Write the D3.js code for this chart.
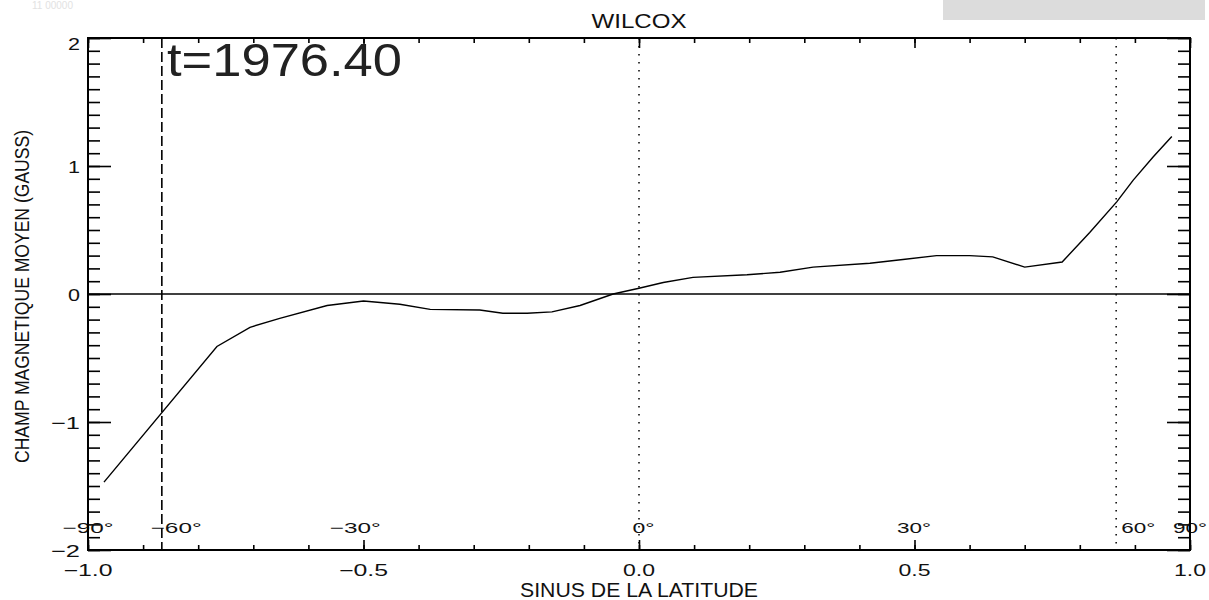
<!DOCTYPE html>
<html>
<head>
<meta charset="utf-8">
<script src="https://cdn.jsdelivr.net/npm/d3@7"></script>
<style>
body{margin:0;background:#fff;overflow:hidden;}
svg text{font-family:"Liberation Sans",Arial,sans-serif;fill:#111;}
</style>
</head>
<body>
<svg id="chart" width="1209" height="600"></svg>
<script>
// mean magnetic field vs sine of latitude (Wilcox, t=1976.40)
var sinLat = [-0.971,-0.766,-0.706,-0.652,-0.566,-0.5,-0.434,-0.379,-0.289,-0.247,-0.203,-0.158,-0.107,-0.047,0.0,0.044,0.098,0.196,0.256,0.316,0.419,0.479,0.54,0.6,0.642,0.70,0.768,0.818,0.867,0.897,0.933,0.967]
var field = [-1.47,-0.41,-0.26,-0.19,-0.09,-0.055,-0.08,-0.12,-0.125,-0.15,-0.15,-0.14,-0.09,0,0.045,0.09,0.13,0.15,0.17,0.21,0.24,0.27,0.30,0.30,0.29,0.21,0.25,0.48,0.72,0.89,1.07,1.23]

var xMajor = [-1,-0.5,0,0.5,1]
var yMajor = [-2,-1,0,1,2]
var degLabels = ["\u221290\u00b0","\u221260\u00b0","\u221230\u00b0","0\u00b0","30\u00b0","60\u00b0","90\u00b0"]
var degPos = [-1,-0.84,-0.515,0.008,0.499,0.906,1]
var dashedAt = [-0.866]
var dottedAt = [0,0.866]

var title = "WILCOX"
var timeLabel = "t=1976.40"
var xTitle = "SINUS DE LA LATITUDE"
var yTitle = "CHAMP MAGNETIQUE MOYEN (GAUSS)"

var L = 88, R = 1190, T = 38, B = 550

var svg = d3.select("#chart")
var x = d3.scaleLinear().domain([-1,1]).range([L,R])
var y = d3.scaleLinear().domain([-2,2]).range([B,T])

// rough width of IDL vector-font labels
function labelWidth(s){
	let w = 0
	for(let c of s){
		if(c=="\u2212") w += 17
		else if(c==".") w += 8
		else if(c=="\u00b0") w += 10
		else w += 12
	}
	return w
}

// faint leftovers of the screen grab
svg.append("rect").attr("x",943).attr("y",0).attr("width",262).attr("height",20).attr("fill","#dcdcdc")
svg.append("text").attr("x",32).attr("y",9).attr("font-size",10).style("fill","#e2e2e2").text("11 00000")

// reference verticals
svg.selectAll(".dashed").data(dashedAt).enter().append("line")
	.attr("x1",d=>x(d)).attr("x2",d=>x(d)).attr("y1",T).attr("y2",B)
	.attr("stroke","#000").attr("stroke-width",1.6).attr("stroke-dasharray","10,4")
svg.selectAll(".dotted").data(dottedAt).enter().append("line")
	.attr("x1",d=>x(d)).attr("x2",d=>x(d)).attr("y1",T).attr("y2",B)
	.attr("stroke","#000").attr("stroke-width",1.5).attr("stroke-dasharray","1.5,6.5")

// zero line
svg.append("line").attr("x1",L).attr("x2",R).attr("y1",y(0)).attr("y2",y(0))
	.attr("stroke","#000").attr("stroke-width",1.5)

// the curve
var pts = sinLat.map((s,i)=>[s,field[i]])
svg.append("path").datum(pts)
	.attr("fill","none").attr("stroke","#000").attr("stroke-width",1.4)
	.attr("d",d3.line().x(d=>x(d[0])).y(d=>y(d[1])))

// axes: minor ticks every 0.1, major with labels
var minorX = d3.range(-10,11).map(v=>v/10)
var minorY = d3.range(-20,21).map(v=>v/10)

function tickAxis(axis,vals,size,tr){
	let g = svg.append("g").attr("transform",tr)
		.call(axis.tickValues(vals).tickSize(size).tickFormat(""))
	g.select(".domain").remove()
	g.selectAll("line").attr("stroke","#000").attr("stroke-width",1.6)
	return g
}
tickAxis(d3.axisBottom(x),minorX,-5,`translate(0,${B})`)
tickAxis(d3.axisTop(x),minorX,-5,`translate(0,${T})`)
tickAxis(d3.axisBottom(x),xMajor,-10,`translate(0,${B})`)
tickAxis(d3.axisTop(x),xMajor,-10,`translate(0,${T})`)
tickAxis(d3.axisLeft(y),minorY,-12,`translate(${L},0)`)
tickAxis(d3.axisRight(y),minorY,-12,`translate(${R},0)`)
tickAxis(d3.axisLeft(y),yMajor,-23,`translate(${L},0)`)
tickAxis(d3.axisRight(y),yMajor,-23,`translate(${R},0)`)

// tick labels
var fx = d3.format(".1f"), fy = d3.format("d")
svg.selectAll(".xlab").data(xMajor).enter().append("text")
	.attr("x",d=>x(d)).attr("y",B+26).attr("text-anchor","middle").attr("font-size",16)
	.attr("textLength",d=>labelWidth(fx(d))).attr("lengthAdjust","spacingAndGlyphs")
	.text(d=>fx(d))
svg.selectAll(".ylab").data(yMajor).enter().append("text")
	.attr("x",L-8).attr("y",d=>y(d)+(d==2?12:7)).attr("text-anchor","end").attr("font-size",17)
	.attr("textLength",d=>labelWidth(fy(d))).attr("lengthAdjust","spacingAndGlyphs")
	.text(d=>fy(d))
svg.selectAll(".deg").data(degLabels).enter().append("text")
	.attr("x",(d,i)=>x(degPos[i])).attr("y",B-17).attr("text-anchor","middle").attr("font-size",15)
	.attr("textLength",d=>labelWidth(d)).attr("lengthAdjust","spacingAndGlyphs")
	.text(d=>d)

// frame
svg.append("rect").attr("x",L).attr("y",T).attr("width",R-L).attr("height",B-T)
	.attr("fill","none").attr("stroke","#000").attr("stroke-width",2)

// titles
svg.append("text").attr("x",(L+R)/2).attr("y",28).attr("text-anchor","middle").attr("font-size",20)
	.attr("textLength",95).attr("lengthAdjust","spacingAndGlyphs").text(title)
svg.append("text").attr("x",(L+R)/2).attr("y",597).attr("text-anchor","middle").attr("font-size",20)
	.attr("textLength",238).attr("lengthAdjust","spacingAndGlyphs").text(xTitle)
svg.append("text").attr("transform",`translate(29,${(130+463)/2}) rotate(-90)`)
	.attr("text-anchor","middle").attr("font-size",20)
	.attr("textLength",333).attr("lengthAdjust","spacingAndGlyphs").text(yTitle)
svg.append("text").attr("x",167).attr("y",76).attr("font-size",46).style("fill","#222")
	.attr("textLength",235).attr("lengthAdjust","spacingAndGlyphs").text(timeLabel)
</script>
</body>
</html>
